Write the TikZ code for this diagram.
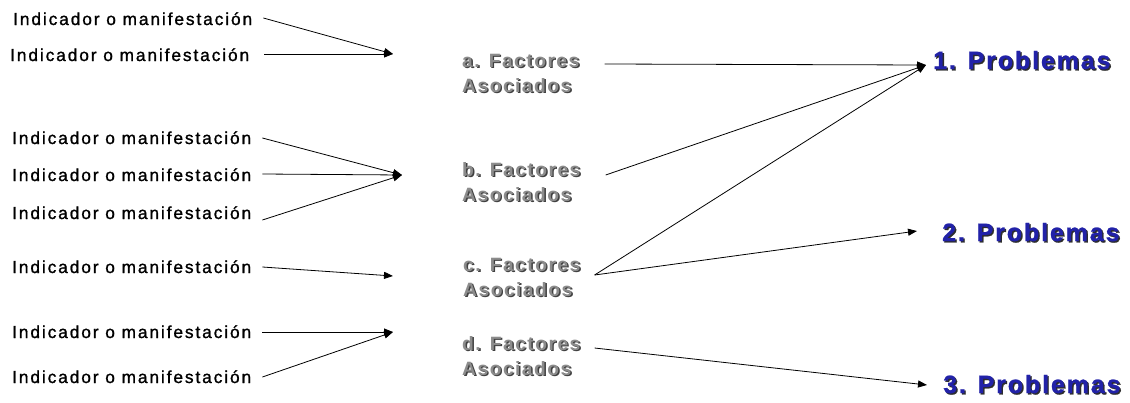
\documentclass[tikz,border=0pt]{standalone}
\usepackage{fontspec}
\setmainfont{Liberation Sans}
\newfontfamily\labfont[LetterSpace=11,FakeBold=1.2]{Liberation Sans}
\newfontfamily\facfont[LetterSpace=7.5]{Liberation Sans}
\newfontfamily\probfont[LetterSpace=7.5,FakeBold=1]{Liberation Sans}
\usetikzlibrary{arrows.meta}
\definecolor{facgray}{RGB}{140,140,140}
\definecolor{facshadow}{RGB}{64,64,64}
\definecolor{probblue}{RGB}{34,34,168}
\definecolor{probshadow}{RGB}{45,45,45}
\newcommand\shtxt[3]{\makebox[0pt][l]{\hspace*{1.4pt}\raisebox{-1.4pt}{\textcolor{#2}{#1}}}\textcolor{#3}{#1}}
\tikzset{
  lab/.style={inner sep=0pt, anchor=base west, text height=12pt, text depth=0pt,
    font=\labfont\fontsize{17.3}{18}\selectfont},
  fac/.style={inner sep=0pt, anchor=north west, align=left,
    font=\facfont\bfseries\fontsize{19.3}{25}\selectfont},
  prob/.style={inner sep=0pt, anchor=base west,
    font=\probfont\bfseries\fontsize{25}{27}\selectfont},
  conn/.style={line width=0.8pt, -{Triangle[length=9pt,width=7pt]}},
}
\begin{document}
\begin{tikzpicture}[x=1pt,y=-1pt]
\useasboundingbox (0,0) rectangle (1130,402);
% indicators
\node[lab] (l1) at (13,25)  {Indicador o manifestación};
\node[lab] (l2) at (10,61)  {Indicador o manifestación};
\node[lab] (l3) at (12,144) {Indicador o manifestación};
\node[lab] (l4) at (12,181) {Indicador o manifestación};
\node[lab] (l5) at (12,219) {Indicador o manifestación};
\node[lab] (l6) at (12,273) {Indicador o manifestación};
\node[lab] (l7) at (12,338) {Indicador o manifestación};
\node[lab] (l8) at (12,383) {Indicador o manifestación};
% factors
\node[fac] (fa) at (462,54)  {\shtxt{a. Factores}{facshadow}{facgray}\\\shtxt{Asociados}{facshadow}{facgray}};
\node[fac] (fb) at (462,162) {\shtxt{b. Factores}{facshadow}{facgray}\\\shtxt{Asociados}{facshadow}{facgray}};
\node[fac] (fc) at (463,258) {\shtxt{c. Factores}{facshadow}{facgray}\\\shtxt{Asociados}{facshadow}{facgray}};
\node[fac] (fd) at (462,336) {\shtxt{d. Factores}{facshadow}{facgray}\\\shtxt{Asociados}{facshadow}{facgray}};
% problems
\node[prob] (p1) at (933,69)  {\shtxt{1. Problemas}{probshadow}{probblue}};
\node[prob] (p2) at (942,241) {\shtxt{2. Problemas}{probshadow}{probblue}};
\node[prob] (p3) at (943,393) {\shtxt{3. Problemas}{probshadow}{probblue}};
% arrow tips
\coordinate (ta) at (393,54);
\coordinate (tb) at (402,175);
\coordinate (tc) at (393,276);
\coordinate (td) at (393,332);
\coordinate (t1) at (926,65);
\coordinate (t2) at (917,231);
\coordinate (t3) at (927,385);
% connectors: indicators -> factors
\draw[conn] ([shift={(11,-1)}]l1.east) -- (ta);
\draw[conn] ([shift={(15,-1)}]l2.east) -- (ta);
\draw[conn] ([shift={(11,0)}]l3.east) -- (tb);
\draw[conn] ([shift={(11,-1)}]l4.east) -- (tb);
\draw[conn] ([shift={(11,7)}]l5.east) -- (tb);
\draw[conn] ([shift={(11,0)}]l6.east) -- (tc);
\draw[conn] ([shift={(11,0)}]l7.east) -- (td);
\draw[conn] ([shift={(11,0)}]l8.east) -- (td);
% connectors: factors -> problems
\draw[conn] ([shift={(25,10)}]fa.north east) -- (t1);
\draw[conn] ([shift={(25,13)}]fb.north east) -- (t1);
\draw[conn] ([shift={(14,17)}]fc.north east) -- (t1);
\draw[conn] ([shift={(14,17)}]fc.north east) -- (t2);
\draw[conn] ([shift={(14,12)}]fd.north east) -- (t3);
\end{tikzpicture}
\end{document}
